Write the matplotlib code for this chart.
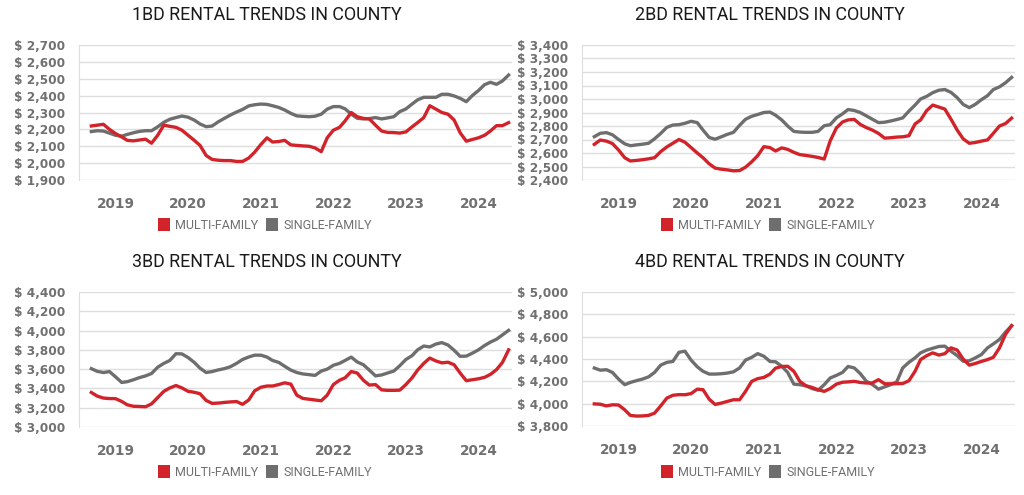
import numpy as np
import pandas as pd
import matplotlib
matplotlib.use("Agg")
import matplotlib.pyplot as plt
from matplotlib.patches import Patch
from matplotlib.ticker import FuncFormatter

# monthly, Sep 2018 .. Jun 2024
months = pd.date_range("2018-09-01", periods=70, freq="MS")

mf_1bd = [2220, 2225, 2230, 2200, 2175, 2155, 2135, 2132, 2137, 2142,
          2118, 2165, 2225, 2218, 2212, 2195, 2165, 2135, 2105, 2045,
          2022, 2017, 2015, 2015, 2010, 2010, 2030, 2065, 2110, 2150,
          2125, 2128, 2135, 2108, 2105, 2102, 2100, 2090, 2068, 2150,
          2195, 2212, 2250, 2300, 2275, 2265, 2262, 2225, 2190, 2182,
          2181, 2178, 2185, 2215, 2240, 2270, 2340, 2320, 2300, 2290,
          2255, 2180, 2130, 2140, 2150, 2165, 2190, 2222, 2222, 2240]
sf_1bd = [2187, 2192, 2190, 2178, 2165, 2160, 2170, 2180, 2188, 2192,
          2192, 2215, 2242, 2260, 2270, 2279, 2272, 2255, 2232, 2216,
          2220, 2245, 2265, 2285, 2303, 2318, 2339, 2346, 2350, 2348,
          2340, 2330, 2315, 2295, 2280, 2277, 2275, 2278, 2290, 2320,
          2335, 2335, 2322, 2290, 2266, 2262, 2264, 2270, 2262, 2268,
          2275, 2305, 2321, 2350, 2375, 2390, 2390, 2390, 2408, 2408,
          2398, 2384, 2364, 2400, 2430, 2465, 2479, 2467, 2487, 2522]

mf_2bd = [2664, 2696, 2688, 2670, 2622, 2565, 2541, 2545, 2550, 2557,
          2565, 2610, 2645, 2672, 2700, 2680, 2640, 2600, 2565, 2520,
          2488, 2480, 2475, 2468, 2470, 2495, 2535, 2580, 2647, 2640,
          2615, 2638, 2627, 2605, 2588, 2582, 2575, 2567, 2555, 2690,
          2785, 2830, 2845, 2849, 2812, 2788, 2770, 2745, 2710, 2713,
          2718, 2720, 2728, 2815, 2845, 2915, 2955, 2940, 2925, 2850,
          2770, 2705, 2672, 2678, 2688, 2697, 2746, 2800, 2818, 2858]
sf_2bd = [2721, 2746, 2751, 2735, 2700, 2668, 2654, 2660, 2665, 2672,
          2705, 2745, 2790, 2807, 2810, 2820, 2835, 2825, 2770, 2715,
          2702, 2720, 2738, 2753, 2805, 2850, 2872, 2885, 2900, 2903,
          2880, 2845, 2800, 2760, 2755, 2753, 2753, 2760, 2802, 2810,
          2860, 2890, 2922, 2915, 2900, 2875, 2850, 2825, 2828, 2837,
          2848, 2860, 2910, 2955, 3000, 3020, 3047, 3065, 3070, 3049,
          3010, 2960, 2936, 2960, 2995, 3025, 3070, 3090, 3120, 3160]

mf_3bd = [3358, 3320, 3300, 3295, 3294, 3265, 3230, 3215, 3213, 3210,
          3240, 3305, 3370, 3405, 3430, 3405, 3370, 3360, 3345, 3275,
          3245, 3248, 3255, 3260, 3264, 3235, 3280, 3375, 3412, 3425,
          3425, 3440, 3458, 3445, 3330, 3296, 3288, 3280, 3272, 3330,
          3440, 3485, 3510, 3575, 3560, 3485, 3435, 3440, 3385, 3380,
          3380, 3382, 3440, 3510, 3590, 3660, 3715, 3685, 3665, 3672,
          3645, 3560, 3480, 3490, 3500, 3515, 3545, 3595, 3670, 3800]
sf_3bd = [3605, 3577, 3565, 3575, 3520, 3462, 3470, 3490, 3512, 3530,
          3555, 3620, 3660, 3690, 3760, 3758, 3720, 3670, 3610, 3565,
          3575, 3592, 3605, 3625, 3660, 3700, 3726, 3745, 3745, 3725,
          3690, 3670, 3630, 3590, 3565, 3550, 3543, 3535, 3580, 3600,
          3640, 3660, 3690, 3725, 3675, 3646, 3590, 3530, 3540, 3560,
          3580, 3635, 3700, 3740, 3800, 3840, 3830, 3860, 3875, 3850,
          3795, 3733, 3735, 3765, 3800, 3845, 3880, 3910, 3955, 4002]

mf_4bd = [3998, 3995, 3980, 3990, 3988, 3945, 3895, 3889, 3890, 3895,
          3915, 3980, 4050, 4075, 4081, 4080, 4090, 4130, 4125, 4040,
          3993, 4005, 4020, 4035, 4035, 4110, 4200, 4224, 4235, 4265,
          4318, 4333, 4335, 4290, 4200, 4160, 4145, 4125, 4110, 4135,
          4175, 4192, 4195, 4200, 4190, 4185, 4185, 4215, 4178, 4178,
          4179, 4180, 4205, 4290, 4395, 4430, 4455, 4435, 4448, 4500,
          4480, 4400, 4345, 4360, 4378, 4395, 4415, 4500, 4620, 4698]
sf_4bd = [4319, 4300, 4304, 4280, 4220, 4170, 4190, 4206, 4220, 4240,
          4280, 4345, 4370, 4378, 4460, 4470, 4390, 4330, 4290, 4265,
          4265, 4268, 4274, 4285, 4320, 4390, 4415, 4448, 4425, 4378,
          4375, 4335, 4280, 4175, 4170, 4160, 4135, 4120, 4170, 4230,
          4253, 4280, 4333, 4320, 4270, 4200, 4172, 4130, 4150, 4170,
          4195, 4320, 4370, 4410, 4455, 4480, 4496, 4512, 4515, 4470,
          4430, 4380, 4384, 4410, 4440, 4500, 4535, 4575, 4640, 4698]

titles = ["1BD RENTAL TRENDS IN COUNTY", "2BD RENTAL TRENDS IN COUNTY",
          "3BD RENTAL TRENDS IN COUNTY", "4BD RENTAL TRENDS IN COUNTY"]
y_ranges = [(1900, 2700, 100), (2400, 3400, 100), (3000, 4400, 200), (3800, 5000, 200)]
years = [2019, 2020, 2021, 2022, 2023, 2024]
legend_labels = ["MULTI-FAMILY", "SINGLE-FAMILY"]

RED = "#d2232a"
GRAY = "#6e6e6e"
TICK = "#707070"

W, H = 1024, 495
fig = plt.figure(figsize=(W / 100, H / 100), dpi=100)

# pixel boxes (left, top, right, bottom) for each panel
boxes = [(79, 45, 512, 180), (582, 45, 1015, 180),
         (79, 292, 512, 427), (582, 292, 1015, 426)]
title_pos = [(267, 15), (770, 15), (267, 262), (770, 262)]
legend_pos = [(265, 225), (768, 225), (265, 472), (768, 472)]
series = [(mf_1bd, sf_1bd), (mf_2bd, sf_2bd), (mf_3bd, sf_3bd), (mf_4bd, sf_4bd)]

for k in range(4):
    l, t, r, b = boxes[k]
    ax = fig.add_axes([l / W, 1 - b / H, (r - l) / W, (b - t) / H])
    mf, sf = series[k]
    ax.plot(months, sf, color=GRAY, lw=2.4, solid_joinstyle="round", zorder=3)
    ax.plot(months, mf, color=RED, lw=2.4, solid_joinstyle="round", zorder=4)

    lo, hi, step = y_ranges[k]
    ax.set_ylim(lo, hi)
    ax.set_yticks(np.arange(lo, hi + 1, step))
    ax.yaxis.set_major_formatter(FuncFormatter(lambda v, p: f"$ {v:,.0f}"))
    ax.set_xlim(pd.Timestamp("2018-07-01"), pd.Timestamp("2024-06-18"))
    ax.set_xticks([pd.Timestamp(f"{y}-01-01") for y in years])
    ax.set_xticklabels([str(y) for y in years])

    ax.grid(axis="y", color="#dedede", lw=1)
    ax.set_axisbelow(True)
    for s in ["top", "right", "bottom"]:
        ax.spines[s].set_visible(False)
    ax.spines["left"].set_color("#dedede")
    ax.tick_params(length=0)
    ax.tick_params(axis="y", pad=10, labelsize=8.7, labelcolor=TICK)
    ax.tick_params(axis="x", pad=12, labelsize=9.8, labelcolor=TICK)
    for lab in ax.get_yticklabels() + ax.get_xticklabels():
        lab.set_fontweight("bold")

    tx, ty = title_pos[k]
    fig.text(tx / W, 1 - ty / H, titles[k], ha="center", va="center",
             fontsize=12.9, family="Roboto", color="#1a1a1a")

    lx, ly = legend_pos[k]
    handles = [Patch(facecolor=RED), Patch(facecolor=GRAY)]
    fig.legend(handles, legend_labels, loc="center", ncol=2,
               bbox_to_anchor=(lx / W, 1 - ly / H), frameon=False,
               handlelength=0.95, handleheight=1.25, handletextpad=0.4,
               columnspacing=0.65, borderpad=0,
               prop={"family": "Roboto", "size": 9.0}, labelcolor="#707070")

fig.savefig("out.png", dpi=100)
